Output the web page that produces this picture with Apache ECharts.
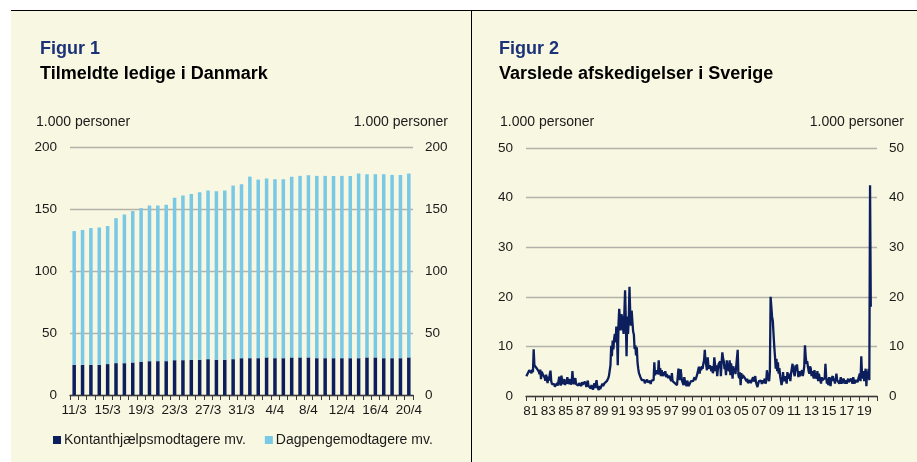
<!DOCTYPE html>
<html>
<head>
<meta charset="utf-8">
<script src="https://cdn.jsdelivr.net/npm/echarts@6/dist/echarts.min.js"></script>
<style>
html,body{margin:0;padding:0;background:#ffffff;}
#chart{width:917px;height:462px;}
</style>
</head>
<body>
<div id="chart"></div>
<script>
// ---------- Figur 1 data ----------
const dkDates = ['11/3','12/3','13/3','14/3','15/3','16/3','17/3','18/3','19/3','20/3','21/3','22/3','23/3','24/3','25/3','26/3','27/3','28/3','29/3','30/3','31/3',
  '1/4','2/4','3/4','4/4','5/4','6/4','7/4','8/4','9/4','10/4','11/4','12/4','13/4','14/4','15/4','16/4','17/4','18/4','19/4','20/4'];
const kontanthjaelp = [24.3,24.3,24.3,24.3,24.9,25.7,25.7,26.2,26.8,27.3,27.3,27.3,28.1,28.1,28.4,28.4,28.9,28.4,28.4,28.9,29.7,
  29.7,29.7,30.3,29.7,29.7,30.3,30.3,30.3,29.7,29.7,29.7,29.7,29.7,29.7,30.3,30.3,29.7,29.7,29.7,30.3];
const dagpenge = [107.9,108.7,110.3,110.8,111.3,116.9,119.9,122.1,123.9,125.5,125.5,126.1,130.9,132.8,133.6,135.1,136.0,135.9,136.5,140.0,140.3,
  146.4,144.0,144.2,144.3,144.3,145.8,146.4,146.9,147.0,147.0,147.0,147.0,147.0,148.9,147.7,147.7,148.3,147.8,147.8,148.3];
const dkTicks = [0,50,100,150,200];

// ---------- Figur 2 data (monthly, Jan 1981 - Apr 2020) ----------
const seYears = [];
for (let y = 1981; y <= 2020; y++) seYears.push(y);
const varsel1980s = [
  4.0,4.3,4.6,4.2,5.2,5.6,5.0,4.6,5.3,4.8,9.4,6.2,
  5.8,6.0,5.6,5.9,5.4,4.9,4.4,5.3,3.4,4.9,5.1,4.2,
  4.6,3.7,3.1,4.3,3.4,2.6,3.9,3.1,4.4,5.1,3.0,2.4,
  2.7,2.2,2.4,1.9,2.3,2.0,2.6,2.1,3.1,3.9,2.7,2.1,
  4.1,2.9,2.4,2.0,3.4,2.2,3.0,2.5,3.8,4.2,2.4,2.1,
  3.4,2.3,2.8,5.0,2.9,2.4,2.2,3.6,2.4,2.0,2.5,2.1,
  2.6,2.2,2.5,2.0,2.8,2.3,2.1,1.9,2.9,2.4,1.8,2.2,
  3.1,2.0,1.7,2.4,1.5,2.2,1.9,1.3,1.8,2.6,1.6,1.4,
  3.2,1.8,1.5,1.2,2.0,1.4,1.8,1.5,2.5,2.0,2.3,2.6];
const varsel1990s = [
  2.5,2.8,3.0,2.9,3.6,4.1,4.4,6.2,10.1,8.0,11.2,9.4,
  11.5,12.5,10.8,14.0,12.0,6.2,14.5,17.6,15.0,13.2,16.5,15.8,
  14.0,12.5,16.8,21.3,15.2,8.0,16.0,12.5,15.2,22.0,17.0,14.2,
  17.2,15.0,13.0,12.4,9.5,10.2,8.2,9.8,6.8,5.5,4.6,4.2,
  3.8,3.5,3.2,3.4,2.8,3.2,2.6,3.0,2.5,3.3,2.8,3.0,
  2.6,3.0,2.4,3.1,2.7,3.5,3.2,6.8,4.2,5.0,4.5,5.2,
  4.4,7.2,4.3,5.6,4.0,5.2,4.6,4.0,4.8,4.2,5.0,3.8,
  4.4,4.0,3.6,4.1,4.3,3.7,3.0,4.6,3.0,3.4,3.0,2.6,
  2.9,2.5,2.2,2.0,5.5,5.0,3.2,5.4,4.0,3.0,2.6,2.2,
  3.8,2.9,2.5,2.0,3.1,2.7,2.0,2.4,2.2,3.0,2.6,3.2];
const varsel2000s = [
  3.0,3.4,3.8,3.2,3.5,4.0,3.6,4.2,5.9,4.5,5.8,5.2,
  6.0,5.5,6.5,7.2,9.3,7.0,6.2,5.2,7.8,6.0,5.5,6.2,
  5.6,5.0,6.0,4.6,5.2,7.8,7.6,5.0,6.2,4.0,5.5,6.5,
  6.6,7.0,4.0,6.8,8.8,7.6,7.0,5.4,6.0,4.2,7.2,6.0,
  6.2,5.0,7.2,4.2,6.6,5.0,3.5,6.0,4.8,5.6,4.4,4.0,
  4.6,9.3,4.2,3.6,4.8,2.2,4.6,3.5,4.2,4.4,3.8,3.6,
  3.8,3.0,3.5,2.6,3.0,2.8,3.2,2.6,3.0,2.6,3.8,2.9,
  3.0,4.0,2.8,2.3,1.8,2.4,3.0,3.3,2.6,3.1,2.4,3.2,
  2.6,3.0,3.5,2.5,3.0,5.2,4.0,4.2,3.0,5.0,20.0,18.0,
  16.0,15.2,12.5,10.0,8.0,5.5,7.5,5.0,6.8,4.5,5.6,4.0];
const varsel2010s = [
  3.6,2.2,3.0,4.8,3.0,2.8,4.0,3.2,2.5,4.8,3.5,3.2,
  4.5,3.0,4.6,5.0,6.5,5.2,4.8,4.0,6.2,5.0,6.4,5.0,
  3.8,5.0,4.0,4.4,3.6,5.2,4.0,4.8,6.0,10.2,8.0,6.5,
  7.0,6.0,5.0,4.5,6.0,5.5,4.0,5.0,4.8,3.5,5.2,4.0,
  4.0,3.5,5.0,3.0,4.5,3.8,4.2,2.5,3.8,3.2,3.5,3.0,
  3.6,6.5,3.8,2.5,3.5,2.2,3.8,2.8,2.0,3.5,3.2,4.0,
  3.0,3.5,2.5,2.2,4.5,3.2,2.8,3.5,2.5,3.0,3.8,2.5,
  3.0,2.8,3.5,2.5,2.8,3.2,2.5,3.0,3.5,2.8,3.2,2.8,
  3.5,3.0,2.5,3.8,3.0,2.5,3.2,3.5,3.0,2.8,3.5,3.2,
  4.5,3.0,8.0,4.5,3.5,5.0,3.0,4.5,5.5,2.0,5.0,3.5];
const varsel2020 = [5.5,3.2,42.5,18.0];
const seTicks = [0,10,20,30,40,50];

// ---------- build ----------
const seMonths = [];
seYears.forEach(y => { for (let m = 1; m <= 12; m++) seMonths.push(y + '-' + (m < 10 ? '0' + m : m)); });
const varsel = [].concat(varsel1980s, varsel1990s, varsel2000s, varsel2010s, varsel2020);

const FONT = 'Liberation Sans, Arial, sans-serif';
const NAVY = '#0c1f5c';
const LIGHT = '#78c8e6';
const GRID = '#b2b2aa';
const AX = '#3a3a3a';
const lbl = {fontFamily: FONT, fontSize: 13.5, color: '#1a1a1a'};
const figStyle = {fontFamily: FONT, fontSize: 18, fontWeight: 'bold', color: '#1c3278', lineHeight: 20};
const headStyle = {fontFamily: FONT, fontSize: 18, fontWeight: 'bold', color: '#000', lineHeight: 20};
const unitStyle = {fontFamily: FONT, fontSize: 14, fontWeight: 'normal', color: '#1a1a1a', lineHeight: 16};

function yAx(gridIndex, pos, max, interval, showSplit) {
  return {
    type: 'value', gridIndex: gridIndex, position: pos, min: 0, max: max, interval: interval,
    axisLine: {show: false}, axisTick: {show: false},
    splitLine: {show: showSplit, lineStyle: {color: GRID, width: 1.3}},
    axisLabel: Object.assign({margin: pos === 'left' ? 13 : 12}, lbl)
  };
}

const chart = echarts.init(document.getElementById('chart'), null, {renderer: 'canvas'});
chart.setOption({
  backgroundColor: '#ffffff',
  animation: false,
  textStyle: {fontFamily: FONT},
  graphic: [
    {type: 'rect', z: -10, silent: true, shape: {x: 11, y: 11, width: 906, height: 451}, style: {fill: '#f8f7e1'}},
    {type: 'line', z: 10, silent: true, shape: {x1: 11, y1: 10.5, x2: 917, y2: 10.5}, style: {stroke: '#000', lineWidth: 1}},
    {type: 'line', z: 10, silent: true, shape: {x1: 471.5, y1: 10, x2: 471.5, y2: 462}, style: {stroke: '#000', lineWidth: 1}}
  ],
  title: [
    {text: 'Figur 1', left: 40, top: 39, padding: 0, textStyle: figStyle},
    {text: 'Tilmeldte ledige i Danmark', left: 40, top: 64, padding: 0, textStyle: headStyle},
    {text: '1.000 personer', left: 36, top: 114, padding: 0, textStyle: unitStyle},
    {text: '1.000 personer', right: 469, top: 114, padding: 0, textStyle: unitStyle},
    {text: 'Figur 2', left: 499, top: 39, padding: 0, textStyle: figStyle},
    {text: 'Varslede afskedigelser i Sverige', left: 499, top: 64, padding: 0, textStyle: headStyle},
    {text: '1.000 personer', left: 500, top: 114, padding: 0, textStyle: unitStyle},
    {text: '1.000 personer', right: 13, top: 114, padding: 0, textStyle: unitStyle}
  ],
  legend: {
    left: 53, top: 433, padding: 0, itemWidth: 8, itemHeight: 8, itemGap: 19, icon: 'rect',
    textStyle: {fontFamily: FONT, fontSize: 14, color: '#1a1a1a', padding: [0, 0, 0, -2]},
    data: ['Kontanthjælpsmodtagere mv.', 'Dagpengemodtagere mv.']
  },
  grid: [
    {left: 70, right: 504, top: 147, bottom: 67, containLabel: false},
    {left: 526, right: 40, top: 148, bottom: 66, containLabel: false}
  ],
  xAxis: [
    {
      type: 'category', gridIndex: 0, data: dkDates, boundaryGap: true,
      axisLine: {show: true, lineStyle: {color: AX, width: 1.3}},
      axisTick: {show: true, interval: 0, inside: false, length: 5, lineStyle: {color: AX}},
      axisLabel: Object.assign({interval: 3, margin: 8}, lbl)
    },
    {
      type: 'category', gridIndex: 1, data: seMonths, boundaryGap: true,
      axisLine: {show: true, lineStyle: {color: AX, width: 1.3}},
      axisTick: {show: true, length: 5, lineStyle: {color: AX},
        interval: function (i) { return i % 12 === 0; }},
      axisLabel: Object.assign({
        margin: 8,
        interval: function (i, v) { const y = +v.slice(0, 4); return v.slice(5) === '07' && y % 2 === 1; },
        formatter: function (v) { return v.slice(2, 4); }
      }, lbl)
    }
  ],
  yAxis: [
    yAx(0, 'left', dkTicks[dkTicks.length - 1], dkTicks[1] - dkTicks[0], true),
    yAx(0, 'right', dkTicks[dkTicks.length - 1], dkTicks[1] - dkTicks[0], false),
    yAx(1, 'left', seTicks[seTicks.length - 1], seTicks[1] - seTicks[0], true),
    yAx(1, 'right', seTicks[seTicks.length - 1], seTicks[1] - seTicks[0], false)
  ],
  series: [
    {name: 'Kontanthjælpsmodtagere mv.', type: 'bar', stack: 'dk', xAxisIndex: 0, yAxisIndex: 0,
      data: kontanthjaelp, barWidth: '42%', itemStyle: {color: NAVY}},
    {name: 'Dagpengemodtagere mv.', type: 'bar', stack: 'dk', xAxisIndex: 0, yAxisIndex: 0,
      data: dagpenge, barWidth: '42%', itemStyle: {color: LIGHT}},
    {name: 'Varsler', type: 'line', xAxisIndex: 1, yAxisIndex: 2, data: varsel,
      showSymbol: false, symbol: 'none', lineStyle: {color: NAVY, width: 2.3}, itemStyle: {color: NAVY}}
  ]
});
</script>
</body>
</html>
